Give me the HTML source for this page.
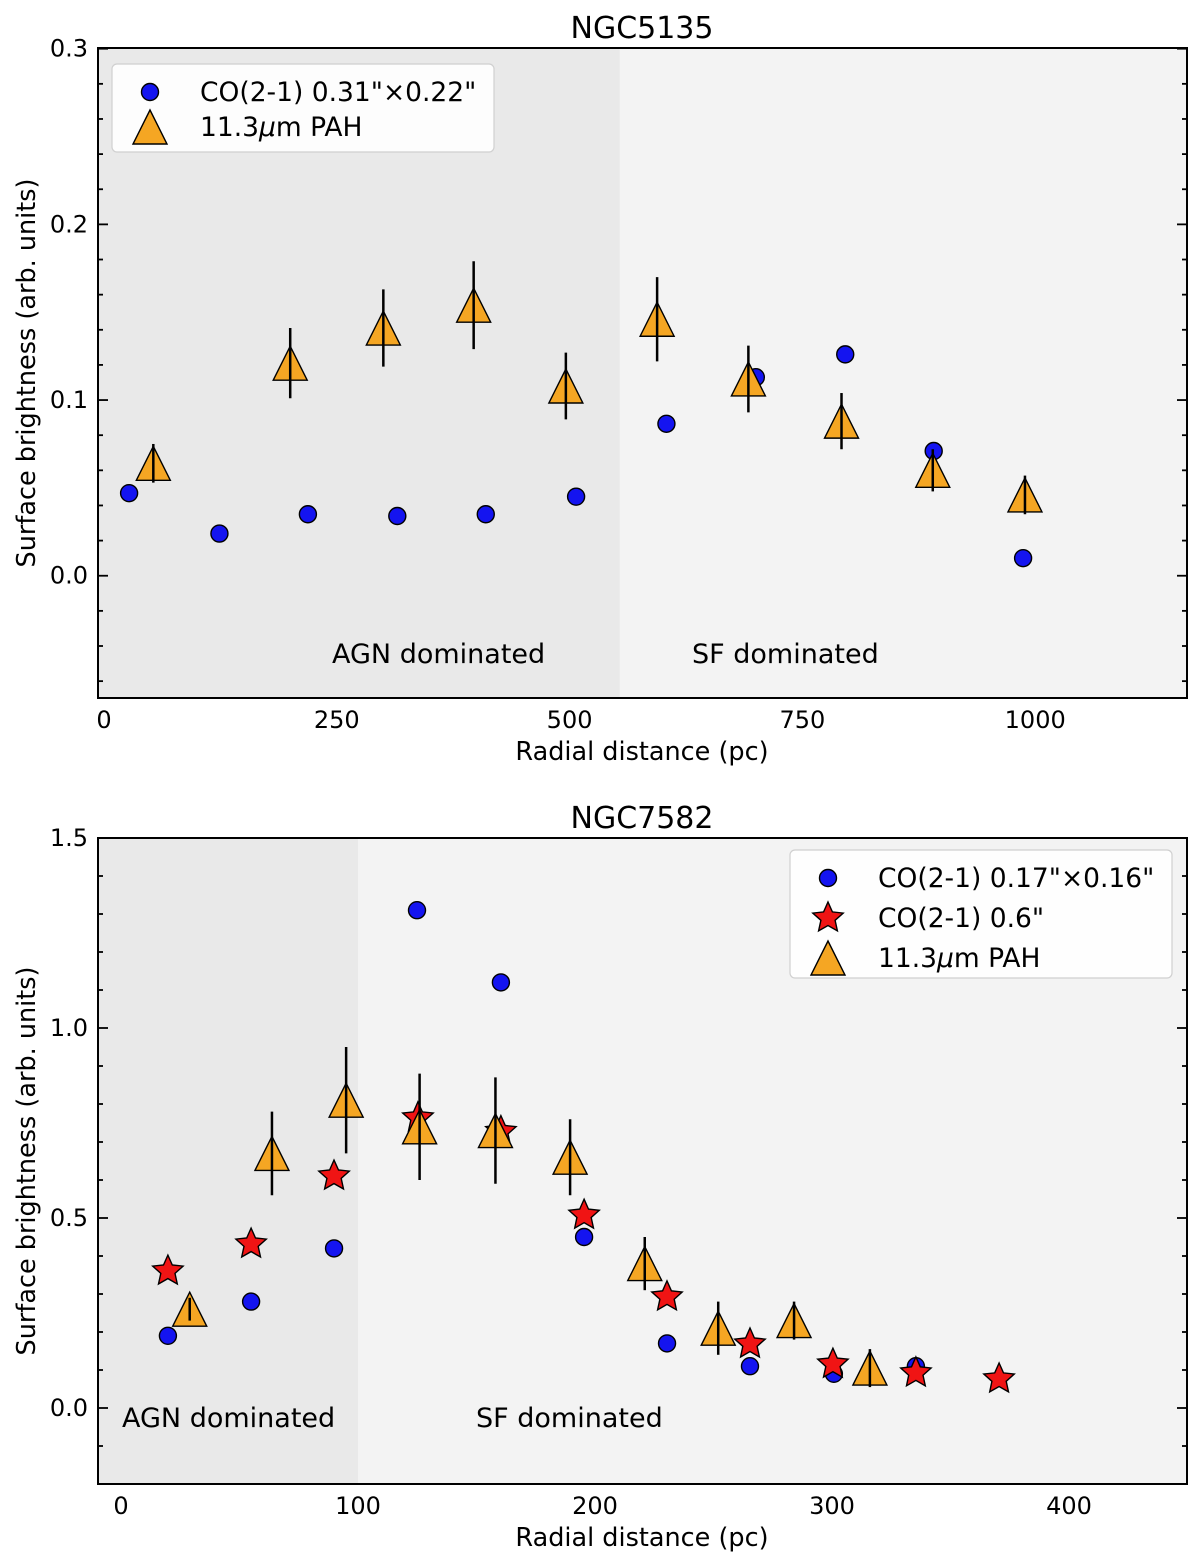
<!DOCTYPE html>
<html><head><meta charset="utf-8"><style>
html,body{margin:0;padding:0;background:#fff;}
svg{display:block;font-family:"DejaVu Sans","Liberation Sans",sans-serif;}
</style></head><body>
<svg id="fig" width="1200" height="1562" xmlns="http://www.w3.org/2000/svg"></svg>
<script>
// ---- Panel 1 data (NGC5135)
const p1CoX = [27,124,219,315,410,507,604,700,796,891,987];
const p1CoY = [0.047,0.024,0.035,0.034,0.035,0.045,0.0865,0.113,0.126,0.071,0.010];
const p1PahX = [53,200,300,397,496,594,692,792,890,989];
const p1PahY = [0.064,0.121,0.141,0.154,0.108,0.146,0.112,0.088,0.060,0.046];
const p1PahE = [0.011,0.020,0.022,0.025,0.019,0.024,0.019,0.016,0.012,0.011];
const p1XTicks = [0,250,500,750,1000];
const p1YTicks = [0.0,0.1,0.2,0.3];
// ---- Panel 2 data (NGC7582)
const p2CoX = [19.8,54.9,89.9,124.9,160.3,195.4,230.4,265.4,300.8,335.4];
const p2CoY = [0.19,0.28,0.42,1.31,1.12,0.45,0.17,0.11,0.09,0.11];
const p2StX = [19.8,54.9,89.9,125.3,160.3,195.4,230.4,265.4,300.4,335.4,370.5];
const p2StY = [0.363,0.434,0.613,0.766,0.73,0.51,0.295,0.171,0.118,0.095,0.079];
const p2PahX = [29,63.7,95,126,158,189.5,221,252,284,316];
const p2PahY = [0.26,0.67,0.81,0.74,0.73,0.66,0.38,0.21,0.23,0.105];
const p2PahE = [0.03,0.11,0.14,0.14,0.14,0.10,0.07,0.07,0.05,0.05];
const p2XTicks = [0,100,200,300,400];
const p2YTicks = [0.0,0.5,1.0,1.5];

const NS="http://www.w3.org/2000/svg";
const svg=document.getElementById('fig');
function mk(tag,attrs,parent){const e=document.createElementNS(NS,tag);for(const k in attrs)e.setAttribute(k,attrs[k]);(parent||svg).appendChild(e);return e;}
function txt(s,attrs,parent){const e=mk('text',attrs,parent);e.textContent=s;return e;}

function panel(cfg){
  const g=mk('g',{});
  
  
  const L=98,R=1187,T=cfg.top,B=cfg.bottom;
  const sx=v=>L+(v-cfg.xmin)/(cfg.xmax-cfg.xmin)*(R-L);
  const sy=v=>B-(v-cfg.ymin)/(cfg.ymax-cfg.ymin)*(B-T);
  const agn=mk('rect',{x:L,y:T,width:sx(cfg.split)-L,height:B-T,fill:'#e9e9e9'},g);
  
  
  const sf=mk('rect',{x:sx(cfg.split),y:T,width:R-sx(cfg.split),height:B-T,fill:'#f3f3f3'},g);
  
  
  const t1=txt('AGN dominated',{x:cfg.agnLabel[0],y:cfg.agnLabel[1],'font-size':27,fill:'#000'},g);
  
  
  const t2=txt('SF dominated',{x:cfg.sfLabel[0],y:cfg.sfLabel[1],'font-size':27,fill:'#000'},g);
  
  
  for(let v=cfg.xmin;v<=cfg.xmax+1e-9;v+=0.5){
    const r=Math.round(v*1000)/1000;
    if(Math.abs(r/cfg.xminor-Math.round(r/cfg.xminor))>1e-6) continue;
    const isMaj=cfg.xTicks.includes(r);const len=isMaj?10:5;const x=sx(r);
    mk('line',{x1:x,x2:x,y1:B,y2:B-len,stroke:'#000','stroke-width':1.8},g);
    mk('line',{x1:x,x2:x,y1:T,y2:T+len,stroke:'#000','stroke-width':1.8},g);
  }
  cfg.xTicks.forEach(v=>{const t=txt(String(v),{x:sx(v),y:B+30,'font-size':24,'text-anchor':'middle'},g);
    });
  for(let i=Math.ceil(cfg.ymin/cfg.yminor);i*cfg.yminor<=cfg.ymax+1e-9;i++){
    const v=i*cfg.yminor;const isMaj=cfg.yTicks.some(t=>Math.abs(t-v)<1e-9);const len=isMaj?10:5;const y=sy(v);
    mk('line',{x1:L,x2:L+len,y1:y,y2:y,stroke:'#000','stroke-width':1.8},g);
    mk('line',{x1:R,x2:R-len,y1:y,y2:y,stroke:'#000','stroke-width':1.8},g);
  }
  cfg.yTicks.forEach(v=>{const t=txt(v.toFixed(1),{x:L-10,y:sy(v)+8,'font-size':24,'text-anchor':'end'},g);
    });
  const xt=txt('Radial distance (pc)',{x:642,y:B+62,'font-size':25.5,'text-anchor':'middle'},g);
  
  const yc=(T+B)/2;
  const yt=txt('Surface brightness (arb. units)',{x:35,y:yc,'font-size':25.5,'text-anchor':'middle',transform:`rotate(-90 35 ${yc})`},g);
  
  const ti=txt(cfg.title,{x:642,y:T-10,'font-size':30,'text-anchor':'middle'},g);
  
  const circle=(x,y,par)=>mk('circle',{cx:x,cy:y,r:8.5,fill:'#1414f0',stroke:'#000','stroke-width':1.4},par);
  const tri=(x,y,par)=>mk('polygon',{points:`${x},${y-17} ${x-17},${y+17} ${x+17},${y+17}`,fill:'#f5a623',stroke:'#000','stroke-width':1.4},par);
  const star=(x,y,par)=>{let p=[];for(let i=0;i<10;i++){const a=-Math.PI/2+i*Math.PI/5;const r=i%2?7.5:16;p.push((x+r*Math.cos(a)).toFixed(1)+','+(y+r*Math.sin(a)+1).toFixed(1));}
    return mk('polygon',{points:p.join(' '),fill:'#f01414',stroke:'#000','stroke-width':1.4},par);};
  cfg.co.x.forEach((v,i)=>{const c=circle(sx(v),sy(cfg.co.y[i]),g);
    });
  if(cfg.st) cfg.st.x.forEach((v,i)=>{const s=star(sx(v),sy(cfg.st.y[i]),g);
    });
  cfg.pah.x.forEach((v,i)=>{const x=sx(v),y=sy(cfg.pah.y[i]);const t=tri(x,y,g);
    
    const e=mk('line',{x1:x,x2:x,y1:sy(cfg.pah.y[i]+cfg.pah.e[i]),y2:sy(cfg.pah.y[i]-cfg.pah.e[i]),stroke:'#000','stroke-width':2.5},g);
    });
  mk('rect',{x:L,y:T,width:R-L,height:B-T,fill:'none',stroke:'#000','stroke-width':2},g);
  const lg=mk('g',{},g);
  
  const [lx,ly,lw,lh]=cfg.legend;
  mk('rect',{x:lx,y:ly,width:lw,height:lh,rx:5,fill:'#fff','fill-opacity':0.9,stroke:'#d0d0d0','stroke-width':1.2},lg);
  cfg.legItems.forEach((it,i)=>{const cy=ly+28+i*cfg.legGap;const mx=lx+38;
    const m=it.m==='c'?circle(mx,cy,lg):it.m==='s'?star(mx,cy-1,lg):tri(mx,cy,lg);
    
    const t=txt('',{x:lx+88,y:cy+9,'font-size':26.5},lg);t.innerHTML=it.t;
    });
}
panel({name:'ngc5135-panel',title:'NGC5135',top:48,bottom:698,xmin:-6.4,xmax:1163,ymin:-0.0696,ymax:0.3004,split:554,
  xTicks:p1XTicks,yTicks:p1YTicks,xminor:50,yminor:0.02,agnLabel:[332,663],sfLabel:[692,663],
  co:{x:p1CoX,y:p1CoY},pah:{x:p1PahX,y:p1PahY,e:p1PahE},
  legend:[112,64,382,88],legGap:35,
  legItems:[{m:'c',t:'CO(2-1) 0.31"×0.22"'},{m:'t',t:'11.3<tspan font-style="italic">μ</tspan>m PAH'}]});
panel({name:'ngc7582-panel',title:'NGC7582',top:838,bottom:1484,xmin:-9.7,xmax:449.8,ymin:-0.2,ymax:1.5,split:100,
  xTicks:p2XTicks,yTicks:p2YTicks,xminor:20,yminor:0.1,agnLabel:[122,1427],sfLabel:[476,1427],
  co:{x:p2CoX,y:p2CoY},st:{x:p2StX,y:p2StY},pah:{x:p2PahX,y:p2PahY,e:p2PahE},
  legend:[790,850,382,128],legGap:40,
  legItems:[{m:'c',t:'CO(2-1) 0.17"×0.16"'},{m:'s',t:'CO(2-1) 0.6"'},{m:'t',t:'11.3<tspan font-style="italic">μ</tspan>m PAH'}]});
</script>
</body></html>
